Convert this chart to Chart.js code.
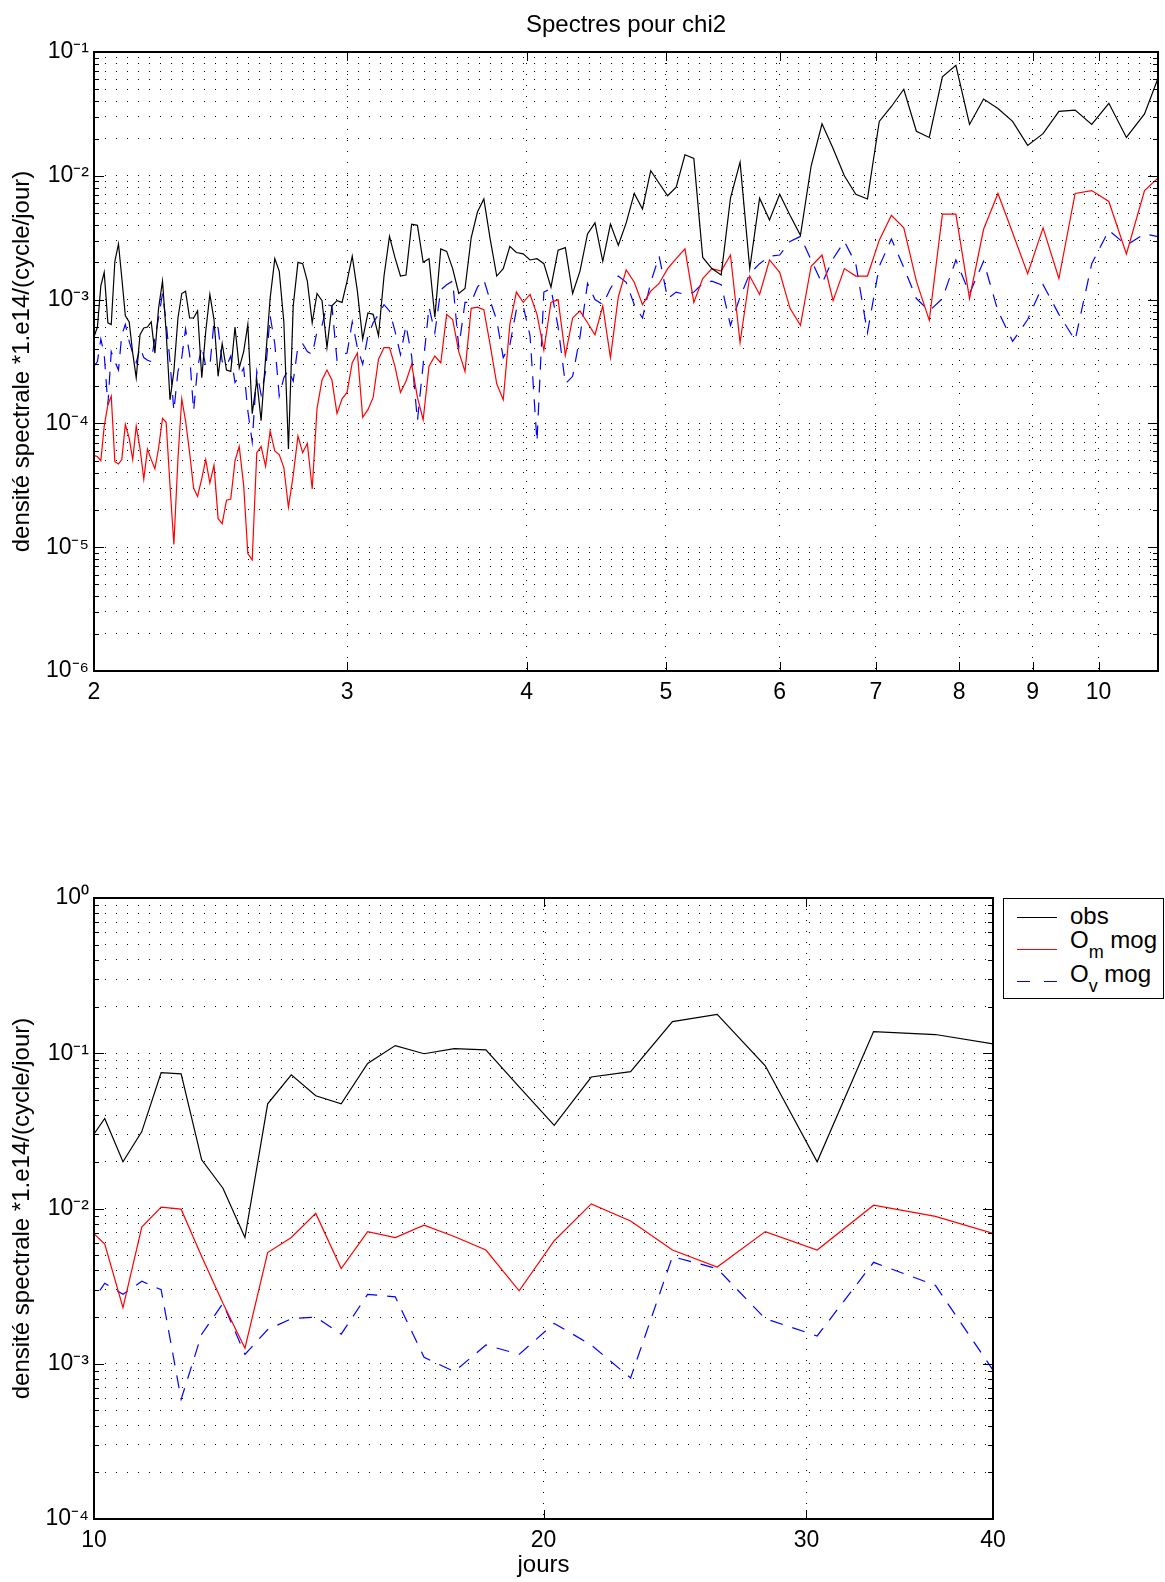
<!DOCTYPE html>
<html><head><meta charset="utf-8">
<script src="https://cdn.jsdelivr.net/npm/chart.js@4.4.1/dist/chart.umd.min.js"></script>
<style>
html,body{margin:0;padding:0;background:#fff;}
body{width:1165px;height:1582px;position:relative;overflow:hidden;font-family:"Liberation Sans",Arial,sans-serif;color:#000;}
#c1{position:absolute;left:0;top:0;}
#c2{position:absolute;left:0;top:850px;}
#legend{position:absolute;left:1003px;top:898px;width:161px;height:101px;border:1px solid #000;background:#fff;box-sizing:border-box;font-size:24px;}
#legend svg{position:absolute;left:0;top:0;}
#legend .t{position:absolute;left:66px;line-height:26px;white-space:nowrap;}
#legend .s{font-size:18px;position:relative;top:10px;}
</style></head>
<body>
<canvas id="c1" width="1165" height="720"></canvas>
<canvas id="c2" width="1165" height="732"></canvas>
<div id="legend">
<svg width="161" height="101">
<line x1="13" y1="18.5" x2="53" y2="18.5" stroke="#000" stroke-width="1.2"/>
<line x1="13" y1="50.5" x2="53" y2="50.5" stroke="#f00" stroke-width="1.2"/>
<line x1="13" y1="82.5" x2="53" y2="82.5" stroke="#00f" stroke-width="1.2" stroke-dasharray="13 14"/>
</svg>
<div class="t" style="top:4px">obs</div>
<div class="t" style="top:28px">O<span class="s">m</span> mog</div>
<div class="t" style="top:62px">O<span class="s">v</span> mog</div>
</div>
<script>
// ---------- data (period in days, spectral density) ----------
const topPeriods = [
2.000,2.011,2.022,2.033,2.045,2.056,2.068,2.080,2.091,2.103,
2.116,2.128,2.140,2.153,2.166,2.179,2.192,2.205,2.218,2.232,
2.245,2.259,2.273,2.288,2.302,2.316,2.331,2.346,2.361,2.377,
2.392,2.408,2.424,2.440,2.456,2.473,2.490,2.507,2.524,2.542,
2.559,2.577,2.596,2.614,2.633,2.652,2.672,2.691,2.711,2.731,
2.752,2.773,2.794,2.815,2.837,2.859,2.882,2.905,2.928,2.952,
2.976,3.000,3.025,3.050,3.076,3.102,3.128,3.155,3.183,3.211,
3.239,3.268,3.297,3.327,3.358,3.389,3.421,3.453,3.486,3.519,
3.553,3.588,3.624,3.660,3.697,3.735,3.773,3.813,3.853,3.894,
3.935,3.978,4.022,4.067,4.112,4.159,4.207,4.256,4.306,4.357,
4.410,4.463,4.519,4.575,4.633,4.692,4.753,4.816,4.880,4.946,
5.014,5.083,5.155,5.229,5.304,5.382,5.463,5.545,5.631,5.719,
5.810,5.903,6.000,6.100,6.203,6.310,6.421,6.536,6.655,6.778,
6.906,7.038,7.176,7.320,7.469,7.625,7.787,7.957,8.133,8.318,
8.512,8.714,8.927,9.150,9.385,9.632,9.892,10.167,10.457,10.765,
11.091];
const topObs = [
5.0e-4,6.0e-4,1.29e-3,1.66e-3,6.5e-4,6.3e-4,2.04e-3,2.82e-3,1.51e-3,7.4e-4,
6.6e-4,3.7e-4,2.34e-4,5.2e-4,5.9e-4,6.0e-4,6.6e-4,3.7e-4,8.5e-4,1.41e-3,
5.5e-4,1.55e-4,2.63e-4,7.1e-4,1.12e-3,1.17e-3,7.1e-4,7.1e-4,8.1e-4,2.34e-4,
5.5e-4,1.10e-3,6.9e-4,2.4e-4,4.4e-4,2.7e-4,2.63e-4,6.0e-4,2.8e-4,3.8e-4,
6.3e-4,1.20e-4,2.24e-4,1.05e-4,3.4e-4,1.02e-3,2.14e-3,1.70e-3,6.6e-4,6.2e-5,
8.9e-4,2.0e-3,1.95e-3,1.41e-3,6.5e-4,1.12e-3,9.8e-4,4.1e-4,8.9e-4,9.8e-4,
9.5e-4,1.41e-3,2.24e-3,1.17e-3,4.8e-4,7.8e-4,7.6e-4,5.1e-4,1.55e-3,3.24e-3,
2.19e-3,1.55e-3,1.58e-3,4.07e-3,3.98e-3,2.0e-3,2.14e-3,7.2e-4,2.57e-3,2.45e-3,
1.78e-3,1.12e-3,1.23e-3,3.16e-3,5.1e-3,6.5e-3,3.09e-3,1.55e-3,1.78e-3,2.69e-3,
2.40e-3,2.34e-3,2.09e-3,2.14e-3,1.95e-3,1.26e-3,2.51e-3,2.63e-3,1.12e-3,1.70e-3,
3.39e-3,4.17e-3,2.04e-3,4.07e-3,2.75e-3,4.17e-3,7.2e-3,5.4e-3,1.10e-2,8.7e-3,
6.9e-3,8.1e-3,1.48e-2,1.38e-2,2.19e-3,1.78e-3,1.58e-3,6.6e-3,1.29e-2,1.78e-3,
6.6e-3,4.4e-3,7.1e-3,4.8e-3,3.31e-3,1.20e-2,2.63e-2,1.66e-2,1.00e-2,7.1e-3,
6.5e-3,2.75e-2,3.63e-2,5.0e-2,2.29e-2,2.04e-2,6.3e-2,7.8e-2,2.6e-2,4.17e-2,
3.5e-2,2.75e-2,1.76e-2,2.19e-2,3.31e-2,3.39e-2,2.6e-2,3.85e-2,2.04e-2,3.16e-2,
7.9e-2];
const topOm = [
5.5e-5,5.4e-5,5.0e-5,9.5e-5,1.41e-4,1.66e-4,4.9e-5,4.7e-5,5.1e-5,9.8e-5,
7.6e-5,5.1e-5,9.5e-5,6.3e-5,3.55e-5,6.2e-5,5.1e-5,4.3e-5,6.3e-5,1.10e-4,
1.02e-4,3.16e-5,1.05e-5,5.2e-5,1.58e-4,1.05e-4,5.8e-5,3.0e-5,2.57e-5,3.6e-5,
5.1e-5,3.3e-5,4.6e-5,1.70e-5,1.55e-5,2.4e-5,2.45e-5,5.0e-5,6.5e-5,3.16e-5,
8.9e-6,7.9e-6,5.8e-5,6.5e-5,4.5e-5,8.7e-5,6.0e-5,5.6e-5,4.4e-5,2.1e-5,
3.8e-5,7.9e-5,5.8e-5,6.9e-5,2.95e-5,1.32e-4,2.24e-4,2.7e-4,2.24e-4,1.20e-4,
1.58e-4,1.78e-4,3.09e-4,3.7e-4,1.12e-4,1.29e-4,1.62e-4,3.3e-4,4.1e-4,4.1e-4,
2.9e-4,1.78e-4,2.19e-4,3.0e-4,1.62e-4,1.07e-4,2.9e-4,3.5e-4,3.09e-4,7.6e-4,
6.9e-4,3.8e-4,2.63e-4,8.5e-4,8.7e-4,8.3e-4,4.3e-4,2.09e-4,1.55e-4,6.3e-4,
1.15e-3,9.5e-4,1.10e-3,7.6e-4,3.9e-4,9.5e-4,1.00e-3,3.55e-4,7.1e-4,8.1e-4,
6.5e-4,5.2e-4,8.9e-4,3.4e-4,1.05e-3,1.74e-3,1.38e-3,9.1e-4,1.17e-3,1.35e-3,
1.78e-3,2.14e-3,2.57e-3,9.5e-4,1.48e-3,1.78e-3,1.70e-3,2.29e-3,4.5e-4,1.55e-3,
1.10e-3,2.09e-3,1.66e-3,8.5e-4,6.2e-4,1.86e-3,2.29e-3,9.8e-4,1.78e-3,1.55e-3,
1.55e-3,3.02e-3,4.8e-3,3.8e-3,1.41e-3,6.8e-4,4.9e-3,4.9e-3,1.02e-3,3.7e-3,
7.2e-3,3.47e-3,1.62e-3,3.8e-3,1.48e-3,7.2e-3,7.6e-3,6.2e-3,2.34e-3,7.6e-3,
1.05e-2];
const topOv = [
2.9e-4,3.16e-4,4.8e-4,3.6e-4,1.41e-4,3.8e-4,3.16e-4,2.7e-4,5.2e-4,6.3e-4,
4.6e-4,3.7e-4,3.09e-4,4.1e-4,3.4e-4,3.24e-4,3.16e-4,4.9e-4,7.1e-4,1.12e-3,
6.6e-4,3.16e-4,1.26e-4,2.63e-4,3.4e-4,5.8e-4,3.6e-4,1.26e-4,2.8e-4,4.2e-4,
2.9e-4,2.9e-4,6.6e-4,5.9e-4,3.16e-4,2.9e-4,3.5e-4,2.14e-4,2.4e-4,2.8e-4,
1.26e-4,7.1e-5,2.63e-4,1.70e-4,2.63e-4,7.4e-4,4.4e-4,1.66e-4,2.34e-4,2.7e-4,
2.19e-4,4.2e-4,4.4e-4,3.8e-4,3.6e-4,5.5e-4,6.2e-4,9.1e-4,8.9e-4,3.24e-4,
3.6e-4,3.7e-4,6.6e-4,4.1e-4,3.0e-4,5.1e-4,6.5e-4,7.6e-4,9.1e-4,8.1e-4,
5.6e-4,3.6e-4,6.2e-4,3.5e-4,1.05e-4,3.0e-4,8.7e-4,5.4e-4,1.20e-3,1.32e-3,
1.41e-3,4.1e-4,9.5e-4,9.5e-4,1.26e-3,1.45e-3,9.8e-4,6.8e-4,3.4e-4,4.3e-4,
8.3e-4,8.9e-4,5.1e-4,7.1e-5,1.15e-3,1.23e-3,6.0e-4,2.09e-4,2.4e-4,5.0e-4,
1.35e-3,1.00e-3,9.1e-4,1.23e-3,1.55e-3,1.38e-3,9.1e-4,7.1e-4,1.38e-3,2.24e-3,
1.02e-3,1.15e-3,1.10e-3,1.15e-3,1.35e-3,1.41e-3,1.32e-3,6.2e-4,1.05e-3,1.62e-3,
1.95e-3,2.24e-3,2.29e-3,2.95e-3,3.24e-3,2.09e-3,1.35e-3,2.14e-3,2.95e-3,1.95e-3,
5.4e-4,1.86e-3,3.09e-3,1.82e-3,1.02e-3,8.1e-4,1.02e-3,2.09e-3,1.12e-3,2.04e-3,
8.1e-4,4.6e-4,6.9e-4,1.32e-3,7.6e-4,4.7e-4,1.95e-3,3.63e-3,2.75e-3,3.39e-3,
3.16e-3];

const botPeriods = [9.892,10.167,10.457,10.765,11.091,11.438,11.806,12.200,12.621,13.071,13.556,14.077,14.640,15.250,15.913,16.636,17.429,18.300,19.263,20.333,21.529,22.875,24.400,26.143,28.154,30.500,33.273,36.600,40.667];
const botObs = [2.6e-2,3.8e-2,2.0e-2,3.13e-2,7.5e-2,7.36e-2,2.06e-2,1.35e-2,6.5e-3,4.72e-2,7.26e-2,5.32e-2,4.72e-2,8.59e-2,0.112,9.93e-2,0.107,0.105,6.08e-2,3.43e-2,7.03e-2,7.62e-2,0.160,0.178,8.3e-2,2.0e-2,0.138,0.132,0.112];
const botOm = [7.6e-3,5.9e-3,2.3e-3,7.6e-3,1.02e-2,9.9e-3,4.9e-3,2.45e-3,1.26e-3,5.2e-3,6.5e-3,9.3e-3,4.1e-3,7.1e-3,6.5e-3,7.8e-3,6.6e-3,5.4e-3,2.95e-3,6.2e-3,1.07e-2,8.3e-3,5.4e-3,4.2e-3,7.1e-3,5.4e-3,1.05e-2,8.9e-3,6.6e-3];
const botOv = [2.24e-3,3.3e-3,2.8e-3,3.4e-3,3.0e-3,5.9e-4,1.55e-3,2.45e-3,1.15e-3,1.66e-3,1.95e-3,2.0e-3,1.55e-3,2.8e-3,2.7e-3,1.10e-3,8.9e-4,1.32e-3,1.15e-3,1.82e-3,1.32e-3,8.1e-4,4.9e-3,4.1e-3,1.95e-3,1.51e-3,4.5e-3,3.2e-3,7.2e-4];

// ---------- ticks ----------
const topXTicks = [2,3,4,5,6,7,8,9,10];
const botXTicks = [10,20,30,40];
const topYDecades = [1e-6,1e-5,1e-4,1e-3,1e-2,1e-1];
const botYDecades = [1e-4,1e-3,1e-2,1e-1,1];
const minorSteps = [1,2,3,4,5,6,7,8,9];

const seriesNames = ['obs','O_m mog','O_v mog'];
const yTitle = 'densité spectrale *1.e14/(cycle/jour)';

function logTicks(decades){
  const out=[];
  for(let i=0;i<decades.length-1;i++) minorSteps.forEach(m=>out.push(decades[i]*m));
  out.push(decades[decades.length-1]);
  return out;
}
const SUP={'-':'\u207B','0':'\u2070','1':'\u00B9','2':'\u00B2','3':'\u00B3','4':'\u2074','5':'\u2075','6':'\u2076','7':'\u2077','8':'\u2078','9':'\u2079'};
function isDecade(v){const e=Math.log10(v);return Math.abs(e-Math.round(e))<1e-6;}
function decadeLabel(v){
  if(!isDecade(v)) return '';
  return '10'+String(Math.round(Math.log10(v))).split('').map(c=>SUP[c]).join('');
}
function pts(xs,ys){return xs.map((x,i)=>({x:x,y:ys[i]}));}

Chart.defaults.font.family='"Liberation Sans", Arial, sans-serif';
Chart.defaults.color='#000';

const frameTicks={
  id:'frameTicks',
  afterDraw(chart){
    const {ctx,chartArea:a}=chart;
    const xs=chart.scales.x, ys=chart.scales.y;
    ctx.save();
    ctx.strokeStyle='#000';ctx.lineWidth=1;
    ctx.beginPath();
    ys.ticks.forEach(t=>{
      const y=Math.round(ys.getPixelForValue(t.value))+0.5;
      const len=isDecade(t.value)?10:5;
      ctx.moveTo(a.left,y);ctx.lineTo(a.left+len,y);
      ctx.moveTo(a.right,y);ctx.lineTo(a.right-len,y);
    });
    xs.ticks.forEach(t=>{
      const x=Math.round(xs.getPixelForValue(t.value))+0.5;
      ctx.moveTo(x,a.bottom);ctx.lineTo(x,a.bottom-9);
      ctx.moveTo(x,a.top);ctx.lineTo(x,a.top+9);
    });
    ctx.stroke();
    ctx.lineWidth=2;
    ctx.strokeRect(Math.round(a.left),Math.round(a.top),Math.round(a.right-a.left),Math.round(a.bottom-a.top));
    ctx.restore();
  }
};

function makeChart(id,cfg){
  const datasets=[
    {label:seriesNames[0],data:pts(cfg.xs,cfg.obs),borderColor:'#000',borderWidth:1.2},
    {label:seriesNames[1],data:pts(cfg.xs,cfg.om),borderColor:'#ff0000',borderWidth:1.2},
    {label:seriesNames[2],data:pts(cfg.xs,cfg.ov),borderColor:'#0000ff',borderWidth:1.2,borderDash:[13,10]}
  ].map(d=>Object.assign(d,{pointRadius:0,tension:0,fill:false,clip:0}));
  const gridStyle={color:'#000',lineWidth:1,drawTicks:false};
  const borderStyle={display:false,dash:[1,10]};
  return new Chart(document.getElementById(id),{
    type:'line',
    data:{datasets},
    options:{
      responsive:false,animation:false,events:[],
      layout:{padding:cfg.padding},
      plugins:{legend:{display:false},tooltip:{enabled:false},
        title:cfg.title?{display:true,text:cfg.title,fullSize:false,font:{size:24,weight:'normal'},color:'#000',padding:{top:10.5,bottom:12.7}}:{display:false}},
      scales:{
        x:{type:'logarithmic',min:cfg.xmin,max:cfg.xmax,
          afterBuildTicks:s=>{s.ticks=cfg.xticks.map(v=>({value:v}));},
          afterFit:s=>{s.height=cfg.xh;},
          ticks:{autoSkip:false,maxRotation:0,padding:8,font:{size:23},callback:v=>String(v)},
          grid:gridStyle,border:borderStyle,
          title:cfg.xtitle?{display:true,text:cfg.xtitle,font:{size:24},padding:{top:0,bottom:2}}:{display:false}},
        y:{type:'logarithmic',min:cfg.ymin,max:cfg.ymax,
          afterBuildTicks:s=>{s.ticks=logTicks(cfg.ydec).map(v=>({value:v}));},
          afterFit:s=>{s.width=94;},
          ticks:{autoSkip:false,padding:5,font:{size:23},callback:v=>decadeLabel(v)},
          grid:gridStyle,border:borderStyle,
          title:{display:true,text:yTitle,font:{size:24},padding:{top:8,bottom:0}}}
      }
    },
    plugins:[frameTicks]
  });
}

makeChart('c1',{xs:topPeriods,obs:topObs,om:topOm,ov:topOv,xmin:2,xmax:11,ymin:1e-6,ymax:1e-1,
  xticks:topXTicks,ydec:topYDecades,xh:49,padding:{left:0,right:7,top:0,bottom:0},title:'Spectres pour chi2'});
makeChart('c2',{xs:botPeriods,obs:botObs,om:botOm,ov:botOv,xmin:10,xmax:40,ymin:1e-4,ymax:1,
  xticks:botXTicks,ydec:botYDecades,xh:63,padding:{left:0,right:172,top:48,bottom:0},xtitle:'jours'});
</script>
</body></html>
